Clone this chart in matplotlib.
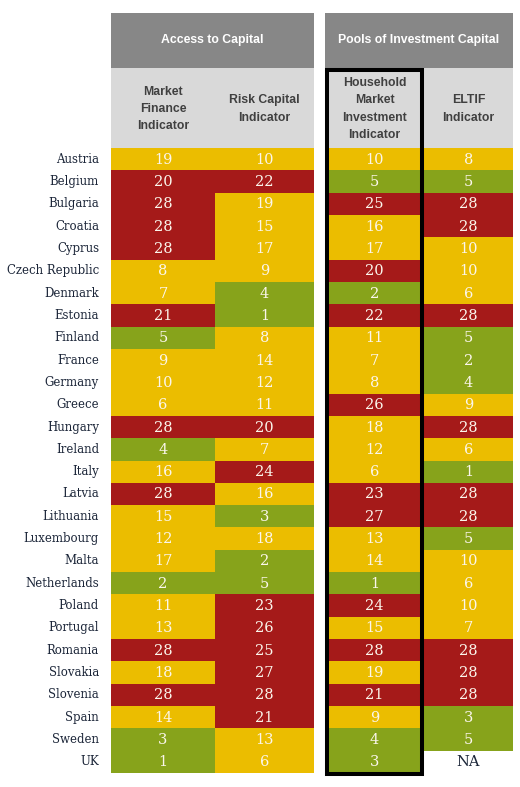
import matplotlib
matplotlib.use("Agg")
import matplotlib.pyplot as plt
from matplotlib.patches import Rectangle

countries = ["Austria", "Belgium", "Bulgaria", "Croatia", "Cyprus", "Czech Republic",
             "Denmark", "Estonia", "Finland", "France", "Germany", "Greece", "Hungary",
             "Ireland", "Italy", "Latvia", "Lithuania", "Luxembourg", "Malta",
             "Netherlands", "Poland", "Portugal", "Romania", "Slovakia", "Slovenia",
             "Spain", "Sweden", "UK"]
market_finance = [19, 20, 28, 28, 28, 8, 7, 21, 5, 9, 10, 6, 28, 4, 16, 28, 15, 12, 17, 2, 11, 13, 28, 18, 28, 14, 3, 1]
risk_capital = [10, 22, 19, 15, 17, 9, 4, 1, 8, 14, 12, 11, 20, 7, 24, 16, 3, 18, 2, 5, 23, 26, 25, 27, 28, 21, 13, 6]
household = [10, 5, 25, 16, 17, 20, 2, 22, 11, 7, 8, 26, 18, 12, 6, 23, 27, 13, 14, 1, 24, 15, 28, 19, 21, 9, 4, 3]
eltif = [8, 5, 28, 28, 10, 10, 6, 28, 5, 2, 4, 9, 28, 6, 1, 28, 28, 5, 10, 6, 10, 7, 28, 28, 28, 3, 5, None]

group_titles = ["Access to Capital", "Pools of Investment Capital"]
col_titles = ["Market\nFinance\nIndicator", "Risk Capital\nIndicator",
              "Household\nMarket\nInvestment\nIndicator", "ELTIF\nIndicator"]
series = [market_finance, risk_capital, household, eltif]

GREEN, YELLOW, RED = "#87A31B", "#EBBD00", "#A51A19"
DARK_GRAY, LIGHT_GRAY = "#878787", "#D9D9D9"

def cell_color(v):
    if v is None:
        return "white"
    if v <= 5:
        return GREEN
    if v >= 20:
        return RED
    return YELLOW

W, H = 520, 787
fig = plt.figure(figsize=(W / 100, H / 100), dpi=100)
ax = fig.add_axes([0, 0, 1, 1])
ax.set_xlim(0, W)
ax.set_ylim(H, 0)
ax.axis("off")

col_edges = [(111, 215), (215, 314), (325, 424), (424, 513)]
group_edges = [(111, 314), (325, 513)]
top1, top2, top3 = 13, 68, 148
n = len(countries)
bottom = 773
rh = (bottom - top3) / n

for (x0, x1), t in zip(group_edges, group_titles):
    ax.add_patch(Rectangle((x0, top1), x1 - x0, top2 - top1, color=DARK_GRAY, lw=0))
    ax.text((x0 + x1) / 2, (top1 + top2) / 2, t, ha="center", va="center",
            color="white", fontsize=8.8, fontweight="bold", family="Liberation Sans")

for (x0, x1), t in zip(col_edges, col_titles):
    ax.add_patch(Rectangle((x0, top2), x1 - x0, top3 - top2, color=LIGHT_GRAY, lw=0))
    ax.text((x0 + x1) / 2, (top2 + top3) / 2 + 1, t, ha="center", va="center",
            color="#404040", fontsize=8.8, fontweight="bold", family="Liberation Sans",
            linespacing=1.6)

for i, c in enumerate(countries):
    y0 = top3 + i * rh
    ax.text(99, y0 + rh / 2, c, ha="right", va="center", fontsize=9.4,
            family="DejaVu Serif", fontstretch="condensed", color="#1B2538")
    for (x0, x1), s in zip(col_edges, series):
        v = s[i]
        ax.add_patch(Rectangle((x0, y0), x1 - x0, rh, color=cell_color(v), lw=0))
        ax.text((x0 + x1) / 2, y0 + rh / 2 + 0.5, "NA" if v is None else str(v),
                ha="center", va="center", fontsize=10.5, family="DejaVu Serif",
                color="#1B2538" if v is None else "#FBF6EC")

x0, x1 = col_edges[2]
ax.add_patch(Rectangle((x0 + 2, top2 + 2), x1 - x0 - 4, bottom + 1 - top2 - 2,
                       fill=False, ec="black", lw=2.9))

fig.savefig("out.png", dpi=100)
